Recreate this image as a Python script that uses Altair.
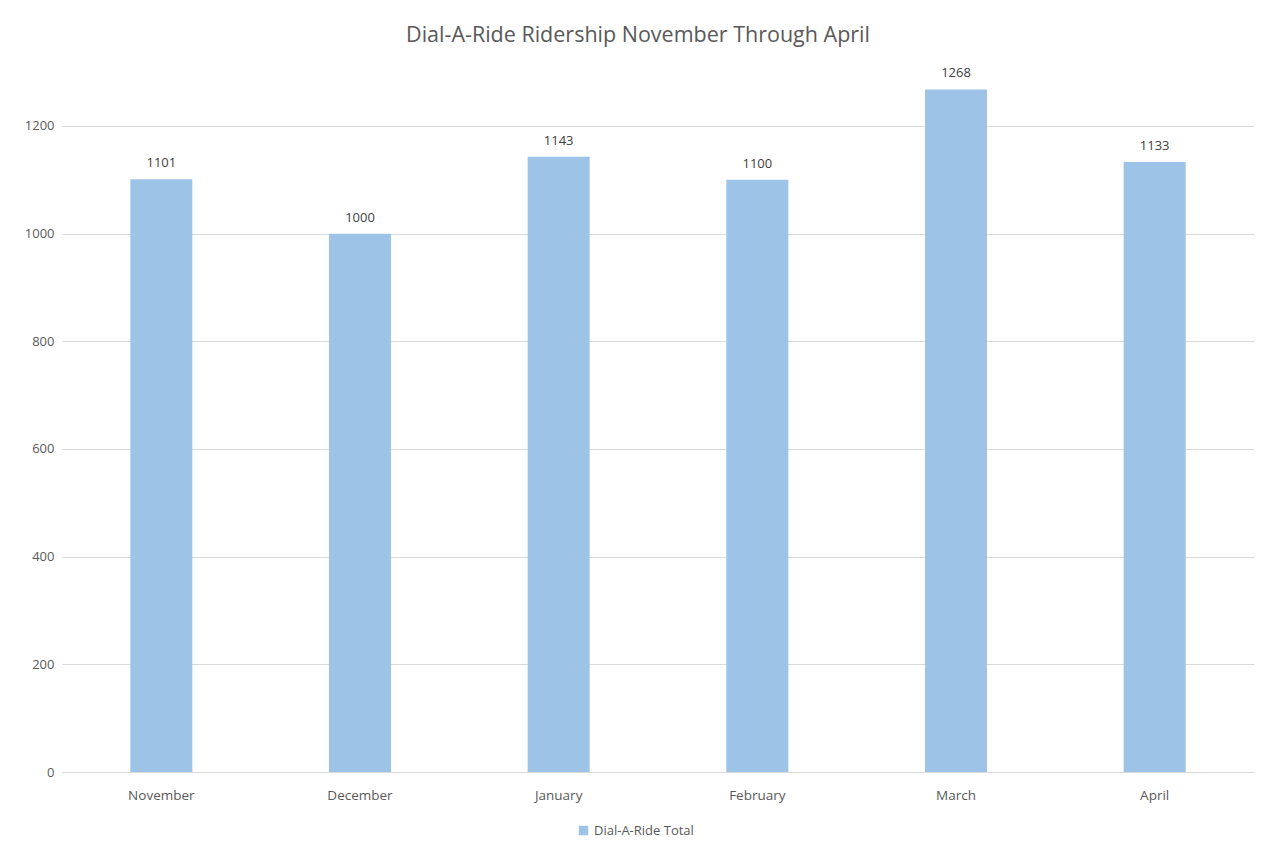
import altair as alt
import pandas as pd

months = ["November", "December", "January", "February", "March", "April"]
riders = [1101, 1000, 1143, 1100, 1268, 1133]
series = ["Dial-A-Ride Total"] * len(months)
y_ticks = [0, 200, 400, 600, 800, 1000, 1200]

df = pd.DataFrame({"Month": months, "Riders": riders, "Series": series})

FONT = "Open Sans"
GREY = "#595959"

x = alt.X("Month:N", sort=months, title=None,
          scale=alt.Scale(paddingInner=0, paddingOuter=0),
          axis=alt.Axis(labelAngle=0, labelFont=FONT, labelFontSize=13.5, labelColor=GREY,
                        ticks=False, domain=True, domainColor="#d9d9d9", labelPadding=16,
                        grid=False))
y = alt.Y("Riders:Q", title=None,
          scale=alt.Scale(domain=[0, 1330], nice=False),
          axis=alt.Axis(values=y_ticks, format="d", labelFont=FONT, labelFontSize=13,
                        labelColor=GREY, ticks=False, domain=False, gridColor="#d9d9d9",
                        labelPadding=8))

bars = alt.Chart(df).mark_bar(size=62, color="#9DC3E6").encode(
    x=x, y=y,
    color=alt.Color("Series:N", scale=alt.Scale(range=["#9DC3E6"]),
                    legend=alt.Legend(title=None, orient="none", legendX=515, legendY=768,
                                      symbolType="square", symbolSize=90,
                                      labelFont=FONT, labelFontSize=13, labelColor=GREY)),
)
labels = alt.Chart(df).mark_text(baseline="bottom", dy=-9, font=FONT, fontSize=13, color="#404040").encode(
    x=alt.X("Month:N", sort=months), y="Riders:Q", text="Riders:Q"
)

chart = (bars + labels).properties(
    width=1192, height=716,
    title=alt.TitleParams("Dial-A-Ride Ridership November Through April", font=FONT,
                          fontSize=21.5, fontWeight="normal", color=GREY, offset=10, dx=-20),
    autosize=alt.AutoSizeParams(type="none"),
    padding={"left": 54, "top": 48, "right": 10, "bottom": 77},
    view=alt.ViewBackground(stroke="transparent", strokeWidth=0),
).configure_view(stroke="transparent", strokeWidth=0).configure(background="white")

chart.save("out.html", embed_options={"renderer": "svg", "actions": False})
